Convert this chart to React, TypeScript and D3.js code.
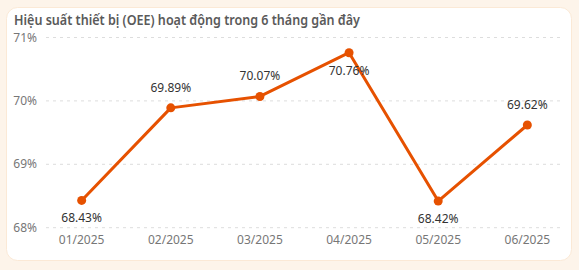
import React from "react";
import * as d3 from "d3";

const months = ["01/2025", "02/2025", "03/2025", "04/2025", "05/2025", "06/2025"];
const oee = [68.43, 69.89, 70.07, 70.76, 68.42, 69.62];
const yTicks = [68, 69, 70, 71];
const title = "Hiệu suất thiết bị (OEE) hoạt động trong 6 tháng gần đây";

const W = 579;
const H = 270;
const FONT = "'Noto Sans', 'Open Sans', sans-serif";
const LINE = "#e65100";

export default function App() {
  const x = d3.scalePoint<string>().domain(months).range([46, 563]).padding(0.4);
  const y = d3.scaleLinear().domain([68, 71]).range([227.7, 37.5]);
  const line = d3
    .line<number>()
    .x((_, i) => x(months[i]) as number)
    .y((d) => y(d));
  const maxV = d3.max(oee) as number;

  return (
    <svg
      width={W}
      height={H}
      style={{ position: "absolute", left: 0, top: 0, display: "block" }}
      fontFamily={FONT}
    >
      <rect x={0} y={0} width={W} height={H} fill="#fdf4ea" />
      <rect x={6.5} y={7.5} width={565} height={253} rx={11} fill="#ffffff" stroke="#fbe9d6" strokeWidth={1} />
      <text
        x={14}
        y={25}
        fontSize={13.5}
        fontWeight={600}
        fill="#5a5a5a"
        textLength={346}
        lengthAdjust="spacingAndGlyphs"
      >
        {title}
      </text>
      {yTicks.map((t) => (
        <g key={t}>
          <line
            x1={46}
            x2={563}
            y1={y(t)}
            y2={y(t)}
            stroke="#dddddd"
            strokeWidth={1}
            strokeDasharray="3,4"
          />
          <text x={37} y={y(t) + 4} textAnchor="end" fontSize={12} fill="#777777">
            {t}%
          </text>
        </g>
      ))}
      {months.map((m) => (
        <text key={m} x={x(m)} y={244} textAnchor="middle" fontSize={12} fill="#777777">
          {m}
        </text>
      ))}
      <path d={line(oee) || ""} fill="none" stroke={LINE} strokeWidth={3} strokeLinejoin="round" />
      {oee.map((v, i) => {
        const below = v === maxV || v < 68.6;
        return (
          <g key={i}>
            <circle cx={x(months[i])} cy={y(v)} r={4.5} fill={LINE} />
            <text
              x={x(months[i])}
              y={below ? y(v) + 22 : y(v) - 16}
              textAnchor="middle"
              fontSize={12}
              fill="#333333"
            >
              {v.toFixed(2)}%
            </text>
          </g>
        );
      })}
    </svg>
  );
}
